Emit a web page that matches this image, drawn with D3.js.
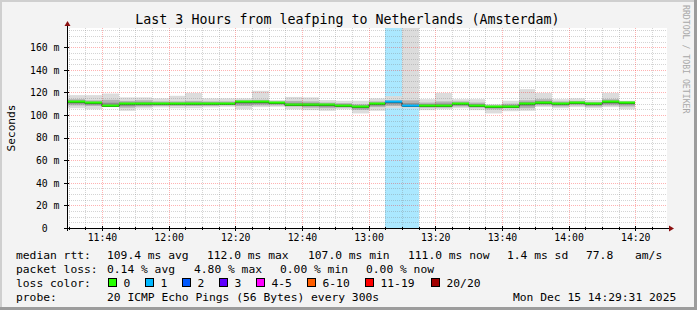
<!DOCTYPE html>
<html><head><meta charset="utf-8">
<script src="https://cdn.jsdelivr.net/npm/d3@7/dist/d3.min.js"></script>
<style>
html,body{margin:0;padding:0;background:#f3f3f3}
svg{display:block}
text{font-family:"DejaVu Sans Mono",monospace;white-space:pre}
</style>
</head><body>
<svg id="c" width="697" height="310"></svg>
<script>
// ---- data ----
const binEnds = ["11:35","11:40","11:45","11:50","11:55","12:00","12:05","12:10","12:15","12:20",
  "12:25","12:30","12:35","12:40","12:45","12:50","12:55","13:00","13:05","13:10",
  "13:15","13:20","13:25","13:30","13:35","13:40","13:45","13:50","13:55","14:00",
  "14:05","14:10","14:15","14:20"];
const medianRtt = [111.4,110.2,108.2,109.4,109.4,109.6,109.6,109.4,109.9,109.6,
  111.1,111.1,110.8,109.1,109.1,108.7,108.4,107.2,109.4,111.1,
  107.9,108.2,108.2,109.4,108.2,107.3,107.3,109.6,110.8,109.6,
  110.8,109.6,111.1,110.8];
const smokeMin = [106,105,107,103.7,105.8,106.7,106,106,106.7,107.3,
  105,107,107.3,105,104.3,103.7,105,101.4,103.7,106,
  106,104.3,105,106,104.3,101.4,103.4,103.7,107.2,106,
  107,106,107,105];
const smokeLow = [108.5,108,107.5,106.5,107.5,108,108,108,108,108.5,
  108,108.5,108.5,107.5,106.5,106,106.5,104.5,107,108,
  107,106.5,106.5,107.5,106.5,105,106,106,108.5,107.5,
  108.5,107.5,108.5,107.5];
const smokeHigh = [114,113,113.5,112.5,113,112,112,112.5,112,112,
  113,113.5,112,112.5,112,111,110.5,109.5,112,113,
  113,111,112,112,111,108.5,110,113,114,112,
  112.5,111.5,114,112];
const smokeMax = [117.6,117.6,119,115.6,115.6,114.7,117,119.6,114.7,114.7,
  114.7,121.4,113.2,116,115.6,113.2,112.6,112.6,114.7,116.7,
  200,114,119.6,114,114,109.6,112.6,122.9,119.6,114,
  114.7,113.2,119.6,112.6];
const lossPings = [0,0,0,0,0,0,0,0,0,0, 0,0,0,0,0,0,0,0,0,1, 1,0,0,0,0,0,0,0,0,0, 0,0,0,0];
const yTickVals = [0,20,40,60,80,100,120,140,160];
const xTickLabels = ["11:40","12:00","12:20","12:40","13:00","13:20","13:40","14:00","14:20"];
const lossLabels = ["0","1","2","3","4-5","6-10","11-19","20/20"];
const lossColors = ["#26ff00","#00b8ff","#0059ff","#5e00ff","#ff00ff","#ff5e00","#ff0000","#a10000"];
const title = "Last 3 Hours from leafping to Netherlands (Amsterdam)";
const yLabel = "Seconds";
const credit = "RRDTOOL / TOBI OETIKER";

// ---- setup ----
const W = 697, H = 310;
const L = 67, R = 667, T = 28, B = 228;
const day = [2025, 11, 15];
const tm = s => { const [h, m] = s.split(":").map(Number); return new Date(day[0], day[1], day[2], h, m, 0); };
const tStart = new Date(2025, 11, 15, 11, 29, 31), tEnd = new Date(2025, 11, 15, 14, 29, 31);
const x = d3.scaleTime().domain([tStart, tEnd]).range([L, R]);
const y = d3.scaleLinear().domain([0, 177]).range([B, T]);

const svg = d3.select("#c");
svg.append("rect").attr("width", W).attr("height", H).attr("fill", "#f3f3f3");
// frame
svg.append("rect").attr("x", 0).attr("y", 0).attr("width", W).attr("height", 2).attr("fill", "#cfcfcf");
svg.append("rect").attr("x", 0).attr("y", 0).attr("width", 2).attr("height", H).attr("fill", "#cfcfcf");
svg.append("rect").attr("x", 0).attr("y", H - 3).attr("width", W).attr("height", 3).attr("fill", "#9c9c9c");
svg.append("rect").attr("x", W - 3).attr("y", 0).attr("width", 3).attr("height", H).attr("fill", "#9c9c9c");

svg.append("rect").attr("x", L).attr("y", T).attr("width", R - L).attr("height", B - T).attr("fill", "#ffffff");
svg.append("clipPath").attr("id", "pc").append("rect").attr("x", L).attr("y", T).attr("width", R - L).attr("height", B - T);

const bins = binEnds.map((e, i) => {
  const end = tm(e), start = new Date(end.getTime() - 300000);
  return {i, x0: i === 0 ? L : Math.round(x(start)), x1: Math.round(x(end)),
    med: medianRtt[i], mn: smokeMin[i], lo: smokeLow[i], hi: smokeHigh[i], mx: smokeMax[i], loss: lossPings[i]};
});
const lossIdx = l => l === 0 ? 0 : l === 1 ? 1 : l === 2 ? 2 : l === 3 ? 3 : l <= 5 ? 4 : l <= 10 ? 5 : l <= 19 ? 6 : 7;

const g = svg.append("g").attr("clip-path", "url(#pc)");
// loss background
g.selectAll(".lb").data(bins.filter(b => b.loss > 0)).join("rect")
  .attr("x", b => b.x0).attr("width", b => b.x1 - b.x0).attr("y", T).attr("height", B - T)
  .attr("fill", b => lossColors[lossIdx(b.loss)]).attr("fill-opacity", 0.33);
// smoke
g.selectAll(".s1").data(bins).join("rect")
  .attr("x", b => b.x0).attr("width", b => b.x1 - b.x0)
  .attr("y", b => y(b.mx)).attr("height", b => y(b.mn) - y(b.mx)).attr("fill", "#dcdcdc");
g.selectAll(".s2").data(bins).join("rect")
  .attr("x", b => b.x0).attr("width", b => b.x1 - b.x0)
  .attr("y", b => y(b.hi)).attr("height", b => y(b.lo) - y(b.hi)).attr("fill", "#b2b2b2");
g.selectAll(".s3").data(bins).join("rect")
  .attr("x", b => b.x0).attr("width", b => b.x1 - b.x0)
  .attr("y", b => y((b.hi + b.med) / 2)).attr("height", b => y((b.lo + b.med) / 2) - y((b.hi + b.med) / 2)).attr("fill", "#8c8c8c");

// grid
const gg = svg.append("g");
const minorT = d3.timeMinute.every(5).range(tStart, tEnd);
const majorT = xTickLabels.map(tm);
gg.selectAll(".vm").data(minorT.filter(t => t.getMinutes() % 20 !== 0)).join("line")
  .attr("x1", t => Math.round(x(t)) + 0.5).attr("x2", t => Math.round(x(t)) + 0.5).attr("y1", T).attr("y2", B)
  .attr("stroke", "rgba(120,120,120,0.32)").attr("stroke-dasharray", "1,1");
gg.selectAll(".hm").data(d3.range(5, 177, 5).filter(v => v % 20 !== 0)).join("line")
  .attr("y1", v => Math.round(y(v)) + 0.5).attr("y2", v => Math.round(y(v)) + 0.5).attr("x1", L).attr("x2", R)
  .attr("stroke", "rgba(120,120,120,0.32)").attr("stroke-dasharray", "1,1");
gg.selectAll(".vM").data(majorT).join("line")
  .attr("x1", t => Math.round(x(t)) + 0.5).attr("x2", t => Math.round(x(t)) + 0.5).attr("y1", T).attr("y2", B)
  .attr("stroke", "rgba(255,0,0,0.3)").attr("stroke-dasharray", "1,1");
gg.selectAll(".hM").data(yTickVals.filter(v => v > 0)).join("line")
  .attr("y1", v => Math.round(y(v)) + 0.5).attr("y2", v => Math.round(y(v)) + 0.5).attr("x1", L).attr("x2", R)
  .attr("stroke", "rgba(255,0,0,0.3)").attr("stroke-dasharray", "1,1");

// median
const stepPts = [];
bins.forEach(b => { stepPts.push([b.x0, Math.round(y(b.med)) + 0.5]); stepPts.push([b.x1, Math.round(y(b.med)) + 0.5]); });
g.append("path").attr("d", d3.line()(stepPts)).attr("fill", "none").attr("stroke", "#202020").attr("stroke-width", 1);
g.selectAll(".md").data(bins).join("rect")
  .attr("x", b => b.x0).attr("width", b => b.x1 - b.x0)
  .attr("y", b => Math.round(y(b.med)) - 1.5).attr("height", 2.2)
  .attr("fill", b => lossColors[lossIdx(b.loss)]);

// axes
const yAxis = d3.axisLeft(y).tickValues(yTickVals).tickFormat(v => v === 0 ? "0  " : v + " m").tickSize(0).tickPadding(7.5);
const ya = svg.append("g").attr("transform", `translate(${L},0)`).call(yAxis);
ya.select(".domain").remove();
ya.selectAll("text").attr("font-family", "DejaVu Sans Mono").attr("font-size", 9.8).attr("fill", "#000").attr("dy", "0.34em");
const xAxis = d3.axisBottom(x).tickValues(majorT).tickFormat(d3.timeFormat("%H:%M")).tickSize(0).tickPadding(6);
const xa = svg.append("g").attr("transform", `translate(0,${B})`).call(xAxis);
xa.select(".domain").remove();
xa.selectAll("text").attr("font-family", "DejaVu Sans Mono").attr("font-size", 9.8).attr("fill", "#000");

// axis lines, ticks, arrows
svg.selectAll(".ytk").data(yTickVals).join("line")
  .attr("x1", L - 3).attr("x2", L + 2).attr("y1", v => Math.round(y(v)) + 0.5).attr("y2", v => Math.round(y(v)) + 0.5)
  .attr("stroke", "#000");
svg.selectAll(".xtk").data(majorT).join("line")
  .attr("x1", t => Math.round(x(t)) + 0.5).attr("x2", t => Math.round(x(t)) + 0.5).attr("y1", B - 2).attr("y2", B + 3)
  .attr("stroke", "#000");
svg.selectAll(".xtm").data(minorT).join("line")
  .attr("x1", t => Math.round(x(t)) + 0.5).attr("x2", t => Math.round(x(t)) + 0.5).attr("y1", B - 1).attr("y2", B + 2)
  .attr("stroke", "#000");
svg.append("line").attr("x1", L + 0.5).attr("x2", L + 0.5).attr("y1", B + 3).attr("y2", T - 3).attr("stroke", "#000");
svg.append("line").attr("x1", L - 3).attr("x2", R + 3).attr("y1", B + 0.5).attr("y2", B + 0.5).attr("stroke", "#000");
svg.append("path").attr("d", `M${L + 0.5},${T - 7} L${L - 2.5},${T - 2} L${L + 3.5},${T - 2} Z`).attr("fill", "#8b1010");
svg.append("path").attr("d", `M${R + 7},${B + 0.5} L${R + 2},${B - 2.5} L${R + 2},${B + 3.5} Z`).attr("fill", "#8b1010");

// title & labels
svg.append("text").attr("x", 347.5).attr("y", 24).attr("text-anchor", "middle").attr("font-size", 13.3).text(title);
svg.append("text").attr("transform", "translate(14.5,128) rotate(-90)").attr("text-anchor", "middle").attr("font-size", 11.2).text(yLabel);
svg.append("text").attr("transform", "translate(683,5) rotate(90)").attr("font-size", 8.2).attr("fill", "#a8a8a8").text(credit);

// legend
const fs = 11.3;
const leg = [
  [16, 258.5, "median rtt:"], [107, 258.5, "109.4 ms avg"], [207, 258.5, "112.0 ms max"], [308, 258.5, "107.0 ms min"],
  [408, 258.5, "111.0 ms now"], [507, 258.5, "1.4 ms sd"], [586, 258.5, "77.8"], [635, 258.5, "am/s"],
  [16, 272.5, "packet loss:"], [107, 272.5, "0.14 % avg"], [194, 272.5, "4.80 % max"], [280, 272.5, "0.00 % min"], [366, 272.5, "0.00 % now"],
  [16, 286.5, "loss color:"],
  [16, 300.5, "probe:"], [107, 300.5, "20 ICMP Echo Pings (56 Bytes) every 300s"], [513, 300.5, "Mon Dec 15 14:29:31 2025"]
];
svg.selectAll(".lg").data(leg).join("text").attr("x", d => d[0]).attr("y", d => d[1]).attr("font-size", fs).text(d => d[2]);
const boxX = [108.5, 145.5, 182.5, 219.5, 256.5, 307.5, 365.5, 431.5];
lossLabels.forEach((lab, i) => {
  svg.append("rect").attr("x", boxX[i]).attr("y", 278.5).attr("width", 8).attr("height", 8)
    .attr("fill", lossColors[i]).attr("stroke", "#000").attr("stroke-width", 1);
  svg.append("text").attr("x", boxX[i] + 15).attr("y", 286.5).attr("font-size", fs).text(lab);
});
</script>
</body></html>
